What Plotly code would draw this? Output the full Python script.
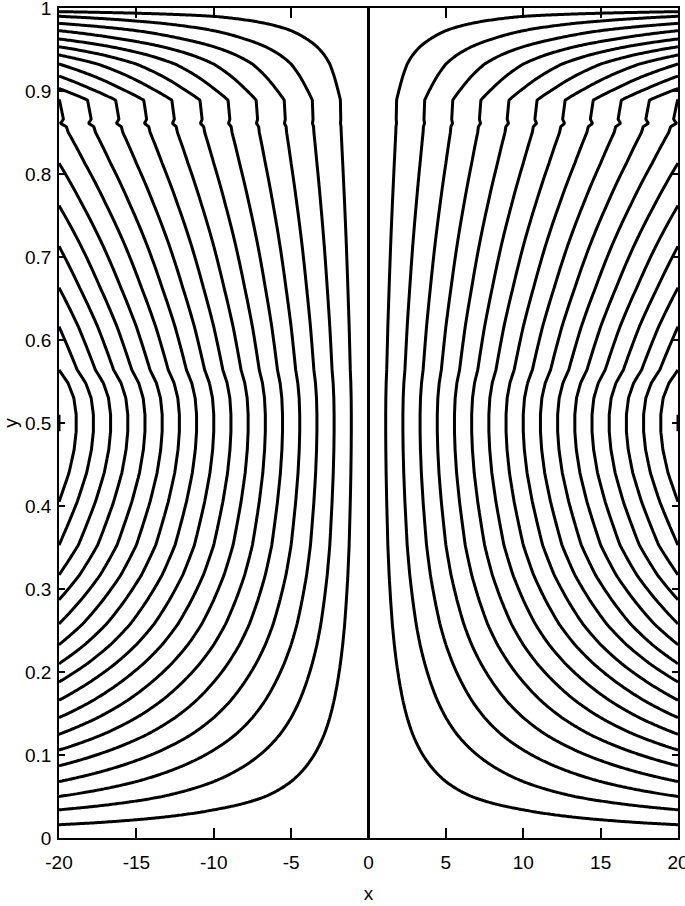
import numpy as np
import plotly.graph_objects as go

# x extent of the channel and tick labels
x_limits = [-20, 20]
x_tick_vals = [-20, -15, -10, -5, 0, 5, 10, 15, 20]
x_tick_text = ["-20", "-15", "-10", "-5", "0", "5", "10", "15", "20"]
y_tick_vals = [0, 0.1, 0.2, 0.3, 0.4, 0.5, 0.6, 0.7, 0.8, 0.9, 1.0]
y_tick_text = ["0", "0.1", "0.2", "0.3", "0.4", "0.5", "0.6", "0.7", "0.8", "0.9", "1"]

# cross-channel profile (relative strength across y)
y_nodes = [0.0, 0.016, 0.034, 0.050, 0.068, 0.087, 0.106, 0.125, 0.145, 0.166,
           0.188, 0.210, 0.233, 0.258, 0.287, 0.317, 0.353, 0.405, 0.440, 0.468,
           0.490, 0.510, 0.530, 0.548, 0.564, 0.616, 0.663, 0.713, 0.762, 0.813,
           0.850, 0.857, 0.861, 0.866, 0.889, 0.903, 0.918, 0.9325, 0.9434, 0.9534,
           0.9627, 0.9727, 0.9815, 0.990, 0.9956, 1.0]
profile = [0.0001, 0.0556, 0.1111, 0.1667, 0.2222, 0.2778, 0.3333, 0.3889, 0.4444, 0.5,
           0.5556, 0.6111, 0.6667, 0.7222, 0.7778, 0.8333, 0.8889, 0.9444, 0.976, 0.993,
           1.0, 1.0, 0.992, 0.973, 0.9444, 0.8889, 0.8333, 0.7778, 0.7222, 0.6667,
           0.630, 0.626, 0.614, 0.620, 0.612, 0.5556, 0.5, 0.4444, 0.3889, 0.3333,
           0.2778, 0.2222, 0.1667, 0.1111, 0.0556, 0.0001]

# contour levels
level_start = -20
level_end = 20
level_step = 20 / 18

x_grid = np.linspace(x_limits[0], x_limits[1], 400)
z = np.outer(np.array(profile), x_grid)

fig = go.Figure(go.Contour(
    x=x_grid, y=y_nodes, z=z,
    contours=dict(start=level_start, end=level_end, size=level_step, coloring="lines"),
    line=dict(width=3, smoothing=0),
    colorscale=[[0, "black"], [1, "black"]],
    showscale=False, hoverinfo="skip",
))

font_family = "Liberation Sans Narrow, Arial Narrow, Liberation Sans, Arial, sans-serif"
axis_common = dict(
    showline=True, linecolor="black", linewidth=1.5, mirror="ticks",
    ticks="inside", tickcolor="black", tickwidth=1.5,
    showgrid=False, zeroline=False, automargin=False,
    ticklabeloverflow="allow",
    tickfont=dict(family=font_family, size=19, color="black"),
)

fig.update_layout(
    width=685, height=906,
    margin=dict(l=59, r=7, t=8, b=68),
    paper_bgcolor="white", plot_bgcolor="white",
    font=dict(family=font_family, size=19, color="black"),
    xaxis=dict(range=x_limits, tickvals=x_tick_vals, ticktext=x_tick_text,
               ticklen=10, ticklabelstandoff=6,
               title=dict(text="x", standoff=15, font=dict(family=font_family, size=19)),
               **axis_common),
    yaxis=dict(range=[0, 1], tickvals=y_tick_vals, ticktext=y_tick_text,
               ticklen=6, ticklabelstandoff=2,
               title=dict(text="y", standoff=20, font=dict(family=font_family, size=19)),
               **axis_common),
)

fig.write_html("out.html",
               config={"displayModeBar": False},
               post_script="document.body.style.margin='0';document.body.style.overflow='hidden';")
